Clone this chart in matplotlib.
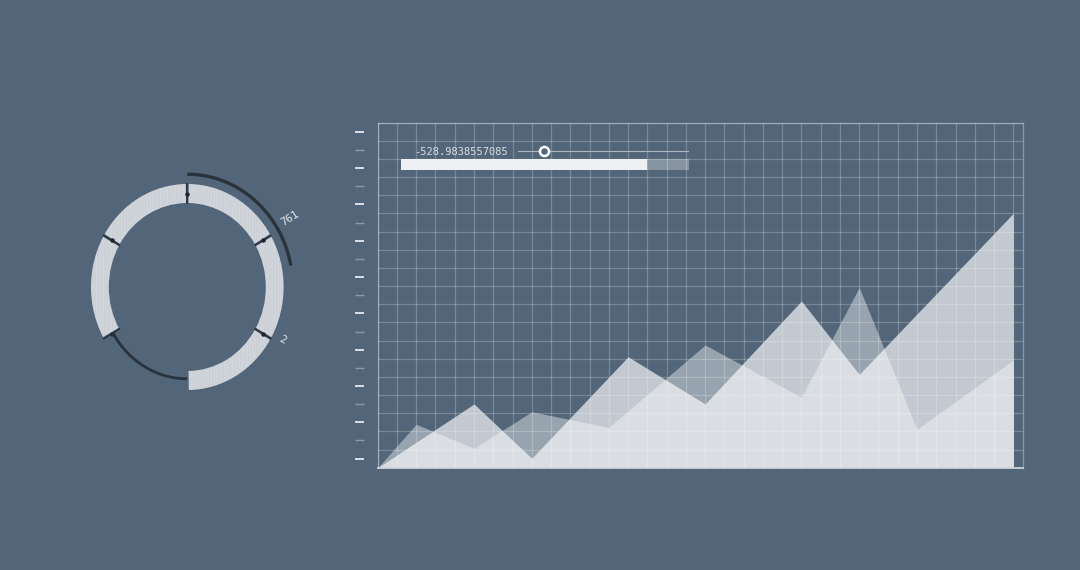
import numpy as np
import matplotlib
matplotlib.use("Agg")
import matplotlib.pyplot as plt
from matplotlib.patches import Rectangle

# ---------------- data ----------------
# area chart series (x in grid steps, y in value units)
series_a_x = [0, 5, 8, 13, 17, 22, 25, 33]
series_a_y = [0, 35.1, 5.2, 61.1, 35.1, 91.8, 51.4, 140.1]
series_b_x = [0, 2, 5, 8, 12, 17, 22, 25, 28, 33]
series_b_y = [0, 23.9, 10.7, 30.8, 22.2, 67.6, 38.8, 99.3, 21.1, 59.3]

# ring chart: six 60-degree slots, one empty
ring_starts = [0, 60, 120, 240, 300]
ring_spans = [60, 60, 60, 60, 60]
ring_boundaries = [0, 60, 120, 240, 300]
arc_outer = (0, 79)      # degrees
arc_inner = (180, 240)   # degrees
ring_labels = ["761", "2"]
ring_label_theta = [58, 117.5]

# slider widget
slider_text = "-528.9838557085"
knob_frac = 0.151
bar_frac = 0.854

BG = "#536679"
W, H = 1080, 570

fig = plt.figure(figsize=(W / 100, H / 100), dpi=100, facecolor=BG)

def fx(px):
    return px / W

def fy(py):
    return 1 - py / H

# ---------------- area chart ----------------
ax = fig.add_axes([fx(377.7), fy(467.7), (1023.3 - 377.7) / W, (467.7 - 122.7) / H])
ax.set_facecolor(BG)
ax.fill_between(series_b_x, series_b_y, 0, color="white", alpha=0.40, lw=0, zorder=2)
ax.fill_between(series_a_x, series_a_y, 0, color="white", alpha=0.65, lw=0, zorder=2)
ax.set_xlim(0, 33.52)
ax.set_ylim(0, 190)
ax.set_xticks(np.arange(0, 34, 1))
ax.set_yticks(np.arange(0, 191, 10))
ax.grid(True, color="white", alpha=0.22, lw=0.9, zorder=3)
ax.set_axisbelow(False)
ax.tick_params(length=0, labelleft=False, labelbottom=False)
for s in ["top", "right", "left"]:
    ax.spines[s].set_color((1, 1, 1, 0.32))
    ax.spines[s].set_linewidth(0.9)
ax.spines["bottom"].set_color("#cdd2d9")
ax.spines["bottom"].set_linewidth(1.3)

# left-side tick marks (outside axes)
tick_vals = np.arange(5, 186, 10)
ytr = ax.get_yaxis_transform()
for i, v in enumerate(tick_vals):
    bright = (i % 2 == 0)
    ax.plot([-0.0352, -0.0212], [v, v], transform=ytr, clip_on=False,
            color="#dde1e6" if bright else "#8d99a6", lw=1.4 if bright else 1.0,
            solid_capstyle="butt")

# ---------------- slider widget ----------------
sx0, sx1 = 400.7, 689.3
sax = fig.add_axes([fx(sx0), fy(175), (sx1 - sx0) / W, 30 / H])
sax.set_xlim(0, 1)
sax.set_ylim(175, 145)
sax.axis("off")
sax.add_patch(Rectangle((0, 159.3), bar_frac, 10.7, color="#eef0f3", lw=0))
sax.add_patch(Rectangle((bar_frac, 159.3), 1 - bar_frac, 10.7, color="white", alpha=0.3, lw=0))
lx0 = (518.3 - sx0) / (sx1 - sx0)
sax.plot([lx0, 1.0], [150.9, 150.9], color="#aeb7c1", lw=0.8)
sax.plot([lx0 + knob_frac * (1 - lx0)], [150.9], marker="o", ms=6.5, mfc=BG,
         mec="white", mew=1.8)
fig.text(fx(414.5), fy(151.6), slider_text, fontsize=7.5, family="DejaVu Sans Mono",
         color="#d9dee4", ha="left", va="center")

# ---------------- ring chart ----------------
Rmax = 130.0
cx, cy = 187.3, 287.0
ratio = 0.935
pw = 2 * Rmax * ratio
ph = 2 * Rmax
pax = fig.add_axes([fx(cx - pw / 2), fy(cy + ph / 2), pw / W, ph / H], projection="polar")
pax.set_theta_zero_location("N")
pax.set_theta_direction(-1)
pax.set_ylim(0, Rmax)
pax.set_aspect("auto")
pax.axis("off")
pax.patch.set_alpha(0)

plt.rcParams["hatch.linewidth"] = 0.3
r_in, r_out = 84.0, 103.0
pad = 0.9
for st, sp in zip(ring_starts, ring_spans):
    pax.bar(np.deg2rad(st + pad), r_out - r_in, width=np.deg2rad(sp - 2 * pad),
            bottom=r_in, align="edge", color="#d0d4db", edgecolor="#c3c8cf",
            hatch="||||||", lw=0)

for b in ring_boundaries:
    t = np.deg2rad(b)
    pax.plot([t, t], [r_in, r_out], color="#2c3641", lw=1.3)
    pax.plot([t], [(r_in + r_out) / 2], marker="o", ms=2.2, color="#1f272f")

t1 = np.deg2rad(np.linspace(arc_outer[0], arc_outer[1], 100))
pax.plot(t1, np.full_like(t1, 112.8), color="#2a323b", lw=2.4, solid_capstyle="butt")
t2 = np.deg2rad(np.linspace(arc_inner[0], arc_inner[1], 100))
pax.plot(t2, np.full_like(t2, 91.8), color="#2a323b", lw=2.0, solid_capstyle="butt")

label_r = [129.0, 115.0]
for lab, th, rr in zip(ring_labels, ring_label_theta, label_r):
    pax.text(np.deg2rad(th), rr, lab, rotation=90 - th, rotation_mode="anchor",
             ha="center", va="center", fontsize=7.8, family="DejaVu Sans Mono",
             color="#e4e8ed")

fig.savefig("out.png", dpi=100, facecolor=BG)
